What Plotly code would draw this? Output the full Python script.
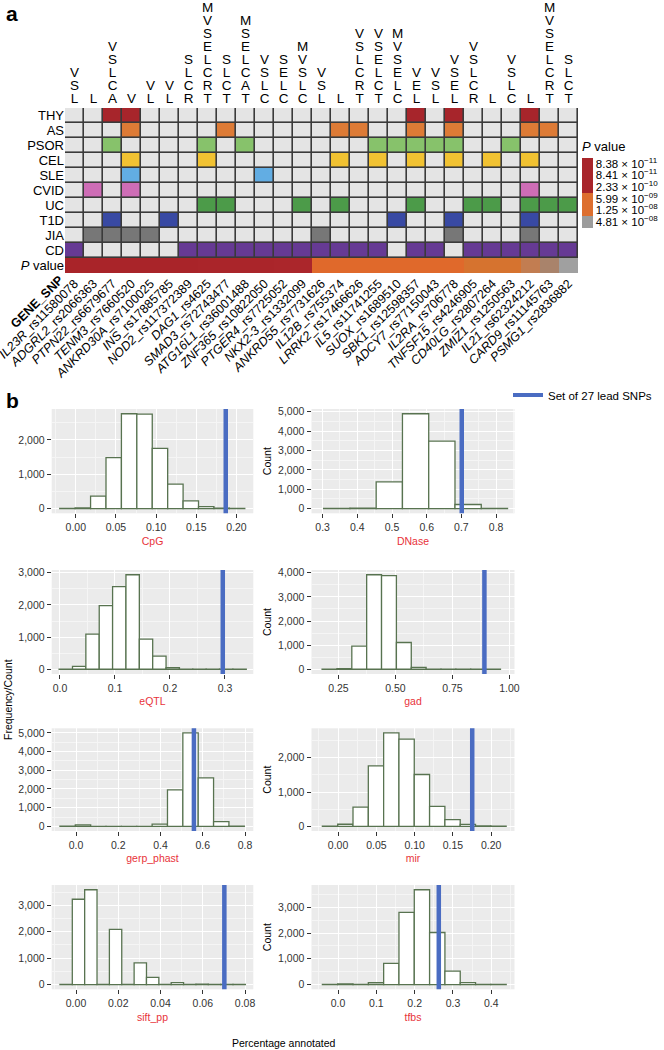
import plotly.graph_objects as go
import math

W, H = 664, 1050
def px_x(p): return p / W
def px_y(p): return 1 - p / H

FONT = "Liberation Sans, Arial, Helvetica, sans-serif"

# ---------------- Panel a data ----------------
genes = ["IL23R", "ADGRL2", "PTPN22", "TENM3", "ANKRD30A", "INS", "NOD2", "DAG1", "SMAD3",
         "ATG16L1", "ZNF365", "PTGER4", "NKX2-3", "ANKRD55", "IL12B", "LRRK2", "IL5", "SUOX",
         "SBK1", "ADCY7", "IL2RA", "TNFSF15", "CD40LG", "ZMIZ1", "IL21", "CARD9", "PSMG1"]
snps = ["rs11580078", "rs2066363", "rs6679677", "rs7660520", "rs7100025", "rs17885785",
        "rs117372389", "rs4625", "rs72743477", "rs36001488", "rs10822050", "rs7725052",
        "rs1332099", "rs7731626", "rs755374", "rs17466626", "rs11741255", "rs1689510",
        "rs12598357", "rs77150043", "rs706778", "rs4246905", "rs2807264", "rs1250563",
        "rs62324212", "rs11145763", "rs2836882"]
func_codes = ["VSL", "L", "VSLCA", "V", "VL", "VL", "SLCR", "MVSELCRT", "SLCT", "MSELCAT",
              "VSLC", "SELC", "MVSLC", "VSL", "L", "VSLCRT", "VSELCT", "MVSELC", "VEL", "VSL",
              "VSEL", "VSLCR", "L", "VSLC", "L", "MVSELCRT", "SLCT"]

diseases = ["THY", "AS", "PSOR", "CEL", "SLE", "CVID", "UC", "T1D", "JIA", "CD"]
# 1-based column indices of the SNPs associated with each disease
THY_cols = [3, 4, 19, 21, 25]
AS_cols = [4, 9, 15, 16, 19, 21, 25, 26]
PSOR_cols = [3, 8, 10, 17, 18, 19, 20, 21, 24]
CEL_cols = [4, 8, 15, 17, 19, 21, 23, 25]
SLE_cols = [4, 11]
CVID_cols = [2, 4, 25]
UC_cols = [8, 9, 13, 15, 19, 22, 23, 25, 26, 27]
T1D_cols = [3, 6, 18, 21, 25]
JIA_cols = [2, 3, 4, 5, 14, 21, 25]
CD_cols = [1, 7, 8, 9, 10, 11, 12, 13, 14, 15, 16, 17, 19, 20, 22, 23, 24, 25, 26, 27]
disease_cols = [THY_cols, AS_cols, PSOR_cols, CEL_cols, SLE_cols, CVID_cols,
                UC_cols, T1D_cols, JIA_cols, CD_cols]
disease_colors = ["#A7252B", "#DD7B36", "#87C26B", "#F1C232", "#62ADE3", "#CE6DB6",
                  "#4C9B49", "#3849A3", "#777777", "#663A94"]
empty_color = "#E4E4E4"

pvals = [8.38e-11, 8.38e-11, 8.38e-11, 8.38e-11, 8.38e-11, 8.38e-11, 8.38e-11,
         8.41e-11, 8.41e-11, 8.41e-11, 8.41e-11, 2.33e-10, 2.33e-10,
         5.99e-09, 5.99e-09, 5.99e-09, 5.99e-09, 5.99e-09, 5.99e-09, 5.99e-09, 5.99e-09,
         1.0e-08, 1.0e-08, 1.0e-08, 1.75e-08, 3.0e-08, 4.81e-08]
legend_p = [4.81e-08, 1.25e-08, 5.99e-09, 2.33e-10, 8.41e-11, 8.38e-11]
legend_p_text = ["4.81 × 10<sup>−08</sup>", "1.25 × 10<sup>−08</sup>", "5.99 × 10<sup>−09</sup>",
                 "2.33 × 10<sup>−10</sup>", "8.41 × 10<sup>−11</sup>", "8.38 × 10<sup>−11</sup>"]

# ---------------- Panel b data ----------------
cpg_bin_start, cpg_bin_width = -0.0200, 0.0192
cpg_counts = [3, 20, 360, 1485, 2760, 2750, 1750, 710, 225, 55, 12, 4]
cpg_lead = 0.1867

dnase_bin_start, dnase_bin_width = 0.303, 0.0757
dnase_counts = [3, 15, 1380, 4900, 3480, 210, 3]
dnase_lead = 0.701

eqtl_bin_start, eqtl_bin_width = -0.0015, 0.0243
eqtl_counts = [5, 90, 1090, 1980, 2570, 2940, 940, 406, 52, 4, 2, 2, 2, 2]
eqtl_lead = 0.296

gad_bin_start, gad_bin_width = 0.178, 0.0652
gad_counts = [3, 25, 960, 3920, 3880, 1110, 80, 3, 2, 2, 2, 2]
gad_lead = 0.89

gerp_bin_start, gerp_bin_width = -0.076, 0.0727
gerp_counts = [5, 80, 3, 2, 2, 3, 120, 1950, 5000, 2590, 250, 6]
gerp_lead = 0.558

mir_bin_start, mir_bin_width = -0.0205, 0.020
mir_counts = [5, 60, 560, 1760, 2720, 2540, 1510, 580, 195, 55, 10, 4]
mir_lead = 0.1752

sift_bin_start, sift_bin_width = -0.0076, 0.00585
sift_counts = [3, 3230, 3590, 2, 2090, 2, 820, 270, 2, 75, 5, 15, 3, 2, 2]
sift_lead = 0.0702

tfbs_bin_start, tfbs_bin_width = -0.041, 0.040
tfbs_counts = [3, 25, 3, 70, 820, 2800, 3680, 2020, 520, 75, 5, 2]
tfbs_lead = 0.263

fig = go.Figure()

# ---------- heatmap (disease rows) ----------
ncol = len(genes)
z_rows, y_rows = [], []
for i in range(len(diseases) - 1, -1, -1):  # CD at bottom (y=1), THY top (y=10)
    cols = disease_cols[i]
    z_rows.append([(i + 1) if (c + 1) in cols else 0 for c in range(ncol)])
    y_rows.append(len(diseases) - i)
palette = [empty_color] + disease_colors
cs = []
n = len(palette)
for k, col in enumerate(palette):
    cs.append([k / n, col])
    cs.append([(k + 1) / n, col])
fig.add_trace(go.Heatmap(x=list(range(ncol)), y=y_rows, z=z_rows, zmin=-0.5, zmax=n - 0.5,
                         colorscale=cs, showscale=False, xgap=1.6, ygap=1.6,
                         xaxis="x", yaxis="y", hoverinfo="skip"))

# ---------- P value row ----------
lx = [math.log10(p) for p in sorted(legend_p)]
lf = [5, 4, 3, 2, 1, 0]
def p_pos(p):
    v = math.log10(p)
    if v <= lx[0]:
        return lf[0]
    for j in range(len(lx) - 1):
        if lx[j] <= v <= lx[j + 1]:
            t = (v - lx[j]) / (lx[j + 1] - lx[j]) if lx[j + 1] > lx[j] else 0
            return lf[j] + t * (lf[j + 1] - lf[j])
    return lf[-1]
ppos = [p_pos(p) for p in pvals]
PMIN, PMAX = -0.53, 5.47
def nrm(v): return (v - PMIN) / (PMAX - PMIN)
row_cs = [[nrm(-0.53), "#A0A0A0"], [nrm(0.0), "#A0A0A0"], [nrm(0.35), "#A9836B"],
          [nrm(0.75), "#C27D51"], [nrm(1.0), "#D3752F"], [nrm(1.3), "#D6732F"],
          [nrm(2.0), "#E0692B"], [nrm(2.45), "#E0672B"], [nrm(2.5), "#AC272B"],
          [nrm(5.47), "#A82429"]]
fig.add_trace(go.Heatmap(x=list(range(ncol)), y=[0], z=[ppos], zmin=PMIN, zmax=PMAX,
                         colorscale=row_cs, showscale=False, xaxis="x", yaxis="y",
                         hoverinfo="skip"))

# legend colour bar for P value
leg_cs = [[0, "#9C9C9C"], [nrm(0.47), "#9C9C9C"], [nrm(0.47), "#DD6F2F"],
          [nrm(2.47), "#DD6F2F"], [nrm(2.47), "#A8252A"], [1, "#A8252A"]]
fig.add_trace(go.Scatter(
    x=[None], y=[None], mode="markers", xaxis="x10", yaxis="y10", showlegend=False,
    hoverinfo="skip",
    marker=dict(color=[0], colorscale=leg_cs, cmin=PMIN, cmax=PMAX, showscale=True,
                colorbar=dict(x=px_x(582), xanchor="left", xpad=0, ypad=0,
                              y=px_y(183), yanchor="middle", len=90, lenmode="pixels",
                              thickness=11, thicknessmode="pixels", tickmode="array",
                              tickvals=[0, 1, 2, 3, 4, 5], ticktext=legend_p_text,
                              ticks="", outlinewidth=0,
                              tickfont=dict(size=11.5, color="black", family=FONT),
                              title=dict(text="<i>P</i> value", side="top",
                                         font=dict(size=13, color="black", family=FONT))))))

# ---------- FUNC header letters ----------
hx, hy, ht = [], [], []
for c, code in enumerate(func_codes):
    for j, ch in enumerate(code):
        hx.append(c)
        hy.append(len(code) - 1 - j)
        ht.append(ch)
fig.add_trace(go.Scatter(x=hx, y=hy, text=ht, mode="text", xaxis="x10", yaxis="y10",
                         textfont=dict(size=13.5, color="black", family=FONT),
                         cliponaxis=False, showlegend=False, hoverinfo="skip"))
fig.add_trace(go.Scatter(x=[-1.4] * 4, y=[3, 2, 1, 0],
                         text=["<b>F</b>", "<b>U</b>", "<b>N</b>", "<b>C</b>"], mode="text",
                         xaxis="x10", yaxis="y10",
                         textfont=dict(size=13.5, color="black", family=FONT),
                         cliponaxis=False, showlegend=False, hoverinfo="skip"))

shapes = [
    dict(type="rect", xref="x10 domain", yref="y10 domain", x0=0, x1=1, y0=0, y1=1,
         fillcolor="white", line=dict(width=0), layer="below"),
    dict(type="rect", xref="x", yref="y", x0=-0.5, x1=ncol - 0.5, y0=0.5, y1=10.5,
         fillcolor="#3A3A3A", line=dict(color="#3A3A3A", width=1.6), layer="below"),
]

gene_labels = [f"<i>{g}</i>_{s}" for g, s in zip(genes, snps)]
row_labels = ["<i>P</i> value"] + diseases[::-1]

layout = dict(
    width=W, height=H, margin=dict(l=0, r=0, t=0, b=0, autoexpand=False), autosize=False,
    paper_bgcolor="white", plot_bgcolor="#EBEBEB",
    font=dict(family=FONT, color="black"),
    xaxis=dict(domain=[px_x(65), px_x(578)], range=[-0.5, ncol - 0.5], anchor="y",
               tickmode="array", tickvals=list(range(ncol)), ticktext=gene_labels,
               tickangle=-45, tickfont=dict(size=12.5, color="black"), ticks="",
               ticklabeloverflow="allow",
               showgrid=False, zeroline=False, showline=False),
    yaxis=dict(domain=[px_y(273), px_y(108)], range=[-0.5, 10.5], anchor="x",
               tickmode="array", tickvals=list(range(11)), ticktext=row_labels,
               tickfont=dict(size=13, color="black"), ticks="", showgrid=False,
               ticklabeloverflow="allow",
               zeroline=False, showline=False),
    xaxis10=dict(domain=[px_x(65), px_x(578)], range=[-0.5, ncol - 0.5], anchor="y10",
                 visible=False),
    yaxis10=dict(domain=[px_y(107), 1], range=[-0.594, 7.656], anchor="x10", visible=False),
)

# ---------- histograms ----------
olive = "#587350"
blue = "#4A6CC2"
panels = [
    ("CpG", cpg_bin_start, cpg_bin_width, cpg_counts, cpg_lead, [-0.030, 0.221], 0.05, ".2f"),
    ("DNase", dnase_bin_start, dnase_bin_width, dnase_counts, dnase_lead, [0.268, 0.853], 0.1, ".1f"),
    ("eQTL", eqtl_bin_start, eqtl_bin_width, eqtl_counts, eqtl_lead, [-0.015, 0.3515], 0.1, ".1f"),
    ("gad", gad_bin_start, gad_bin_width, gad_counts, gad_lead, [0.1316, 1.022], 0.25, ".2f"),
    ("gerp_phast", gerp_bin_start, gerp_bin_width, gerp_counts, gerp_lead, [-0.115, 0.839], 0.2, ".1f"),
    ("mir", mir_bin_start, mir_bin_width, mir_counts, mir_lead, [-0.0347, 0.2304], 0.05, ".2f"),
    ("sift_pp", sift_bin_start, sift_bin_width, sift_counts, sift_lead, [-0.0115, 0.0839], 0.02, ".2f"),
    ("tfbs", tfbs_bin_start, tfbs_bin_width, tfbs_counts, tfbs_lead, [-0.0694, 0.4607], 0.1, ".1f"),
]
col_dom = [[px_x(51.7), px_x(253.3)], [px_x(311.5), px_x(514.5)]]
row_dom = [(409, 513.3), (570, 674), (728.3, 831), (885, 989.3)]
TICKC = "#333333"
for i, (name, start, width, counts, lead, xr, dt, fmt) in enumerate(panels):
    nn = i + 2
    r, c = divmod(i, 2)
    centers = [start + width * (k + 0.5) for k in range(len(counts))]
    fig.add_trace(go.Bar(x=centers, y=counts, width=[width] * len(counts),
                         marker=dict(color="white", line=dict(color=olive, width=1.3)),
                         xaxis=f"x{nn}", yaxis=f"y{nn}", showlegend=False, hoverinfo="skip"))
    shapes.append(dict(type="line", xref=f"x{nn}", yref=f"y{nn} domain", x0=lead, x1=lead,
                       y0=0, y1=1, line=dict(color=blue, width=4.5), layer="above"))
    M = max(counts)
    layout[f"xaxis{nn}"] = dict(
        domain=col_dom[c], range=xr, anchor=f"y{nn}", tick0=0, dtick=dt, tickformat=fmt,
        ticks="outside", ticklen=4, tickcolor=TICKC, tickwidth=1,
        tickfont=dict(size=10.5, color=TICKC), showgrid=True, gridcolor="white",
        gridwidth=1.1, zeroline=False, showline=False, ticklabeloverflow="allow",
        minor=dict(tick0=0, dtick=dt / 2, showgrid=True, gridcolor="#F5F5F5", gridwidth=0.5),
        title=dict(text=name, font=dict(size=10.5, color="#E8333A"), standoff=5))
    ydict = dict(
        domain=[px_y(row_dom[r][1]), px_y(row_dom[r][0])], range=[-0.05 * M, 1.05 * M],
        anchor=f"x{nn}", tick0=0, dtick=1000, tickformat=",d", ticks="outside", ticklen=4,
        tickcolor=TICKC, tickwidth=1, tickfont=dict(size=10.5, color=TICKC), showgrid=True,
        gridcolor="white", gridwidth=1.1, zeroline=False, showline=False,
        ticklabeloverflow="allow",
        minor=dict(tick0=0, dtick=500, showgrid=True, gridcolor="#F5F5F5", gridwidth=0.5))
    if c == 1:
        ydict["title"] = dict(text="Count", font=dict(size=10.5, color="black"), standoff=4)
    layout[f"yaxis{nn}"] = ydict

# legend entry for lead SNP line
fig.add_trace(go.Scatter(x=[None], y=[None], mode="lines", line=dict(color=blue, width=4),
                         name="Set of 27 lead SNPs", xaxis="x2", yaxis="y2", showlegend=True,
                         hoverinfo="skip"))

annotations = [
    dict(text="<b>a</b>", x=px_x(4), y=px_y(13), xref="paper", yref="paper", showarrow=False,
         xanchor="left", yanchor="middle", font=dict(size=21, color="black")),
    dict(text="<b>b</b>", x=px_x(4), y=px_y(400), xref="paper", yref="paper", showarrow=False,
         xanchor="left", yanchor="middle", font=dict(size=21, color="black")),
    dict(text="<b>GENE_SNP</b>", x=px_x(37), y=px_y(302), xref="paper", yref="paper",
         showarrow=False, textangle=-45, xanchor="center", yanchor="middle",
         font=dict(size=12.5, color="black")),
    dict(text="Frequency/Count", x=px_x(8), y=px_y(700), xref="paper", yref="paper",
         showarrow=False, textangle=-90, xanchor="center", yanchor="middle",
         font=dict(size=10.5, color="black")),
    dict(text="Percentage annotated", x=px_x(283), y=px_y(1043), xref="paper", yref="paper",
         showarrow=False, xanchor="center", yanchor="middle",
         font=dict(size=10.5, color="black")),
]

layout["shapes"] = shapes
layout["annotations"] = annotations
layout["showlegend"] = True
layout["legend"] = dict(x=px_x(508), y=px_y(395), xanchor="left", yanchor="middle",
                        bgcolor="rgba(0,0,0,0)", font=dict(size=11.5, color="black"),
                        itemwidth=30)
fig.update_layout(**layout)
fig.write_html("out.html", config={"displayModeBar": False},
               post_script="document.body.style.margin='0px';document.body.style.overflow='hidden';")
